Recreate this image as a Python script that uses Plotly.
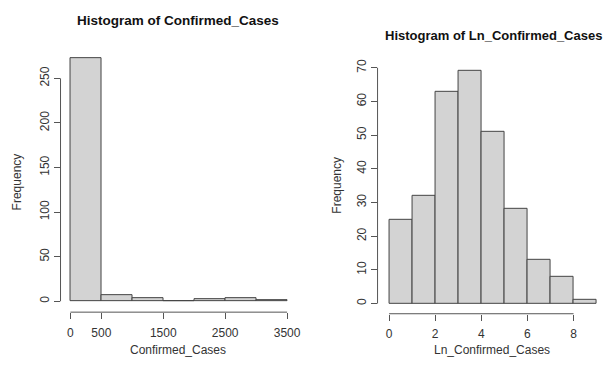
import plotly.graph_objects as go

# Histogram of Confirmed_Cases: bin edges and counts
cases_edges = [0, 500, 1000, 1500, 2000, 2500, 3000, 3500]
cases_counts = [273, 7, 4, 0, 2, 3, 1]
cases_xticks = [0, 500, 1500, 2500, 3500]
cases_yticks = [0, 50, 100, 150, 200, 250]

# Histogram of Ln_Confirmed_Cases: bin edges and counts
ln_edges = [0, 1, 2, 3, 4, 5, 6, 7, 8, 9]
ln_counts = [25, 32, 63, 69, 51, 28, 13, 8, 1]
ln_xticks = [0, 2, 4, 6, 8]
ln_yticks = [0, 10, 20, 30, 40, 50, 60, 70]

FONT = "Liberation Sans, Arial, sans-serif"
BAR_FILL = "#d3d3d3"
BAR_EDGE = "#444444"
AXIS_COL = "#555555"
TEXT_COL = "#333333"


def bar_trace(edges, counts, xa, ya):
    centers = [(a + b) / 2 for a, b in zip(edges[:-1], edges[1:])]
    widths = [b - a for a, b in zip(edges[:-1], edges[1:])]
    return go.Bar(
        x=centers, y=counts, width=widths,
        marker=dict(color=BAR_FILL, line=dict(color=BAR_EDGE, width=1)),
        xaxis=xa, yaxis=ya, showlegend=False, hoverinfo="x+y",
    )


fig = go.Figure()
fig.add_trace(bar_trace(cases_edges, cases_counts, "x", "y"))
fig.add_trace(bar_trace(ln_edges, ln_counts, "x2", "y2"))

tick_font = dict(family=FONT, size=12, color=TEXT_COL)
common = dict(showgrid=False, zeroline=False, showline=False, ticks="outside",
              ticklen=6, tickwidth=1, tickcolor=AXIS_COL, tickfont=tick_font,
              tickmode="array", fixedrange=True)
common_x = dict(common, ticklabelstandoff=3)
common_y = dict(common, tickangle=-90)

fig.update_layout(
    width=606, height=365,
    margin=dict(l=0, r=0, t=0, b=0),
    paper_bgcolor="white", plot_bgcolor="white",
    bargap=0,
    xaxis=dict(common_x, domain=[0.1007, 0.4921], range=[-160, 3640],
               tickvals=cases_xticks, anchor="y"),
    yaxis=dict(common_y, domain=[0.1460, 0.8753], range=[-12.2, 283.9],
               tickvals=cases_yticks, anchor="x"),
    xaxis2=dict(common_x, domain=[0.6282, 1.0], range=[-0.5, 9.19],
                tickvals=ln_xticks, anchor="y2"),
    yaxis2=dict(common_y, domain=[0.1416, 0.8375], range=[-3.03, 71.76],
                tickvals=ln_yticks, anchor="x2"),
)

# Axis lines spanning only from the first to the last tick
line_style = dict(color=AXIS_COL, width=1)
for xa, ya, xt, yt in [("x", "y", cases_xticks, cases_yticks),
                       ("x2", "y2", ln_xticks, ln_yticks)]:
    fig.add_shape(type="line", xref=xa, yref=f"{ya} domain",
                  x0=xt[0], x1=xt[-1], y0=0, y1=0, line=line_style)
    fig.add_shape(type="line", xref=f"{xa} domain", yref=ya,
                  x0=0, x1=0, y0=yt[0], y1=yt[-1], line=line_style)

# Titles and axis labels
label_font = dict(family=FONT, size=12, color=TEXT_COL)
annots = [
    dict(text="<b>Histogram of Confirmed_Cases</b>", x=179 / 606, y=1 - 18 / 365,
         font=dict(family=FONT, size=13.5, color="#111111"), xanchor="center"),
    dict(text="<b>Histogram of Ln_Confirmed_Cases</b>", x=386 / 606, y=1 - 33 / 365,
         font=dict(family=FONT, size=13, color="#111111"), xanchor="left"),
    dict(text="Confirmed_Cases", x=179 / 606, y=1 - 350 / 365, font=label_font, xanchor="center"),
    dict(text="Ln_Confirmed_Cases", x=496 / 606, y=1 - 350 / 365, font=label_font, xanchor="center"),
    dict(text="Frequency", x=17 / 606, y=1 - 180 / 365, font=label_font, textangle=-90, xanchor="center"),
    dict(text="Frequency", x=340 / 606, y=1 - 184 / 365, font=label_font, textangle=-90, xanchor="center"),
]
for a in annots:
    fig.add_annotation(xref="paper", yref="paper", showarrow=False,
                       yanchor="middle", **a)

fig.write_html("out.html")
